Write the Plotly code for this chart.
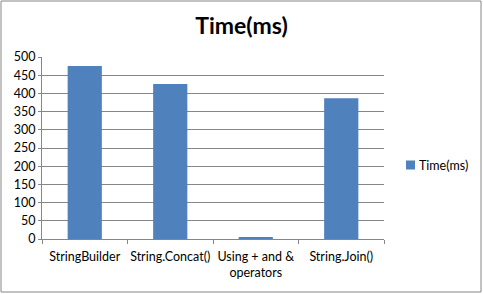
import plotly.graph_objects as go

categories = ["StringBuilder", "String.Concat()", "Using + and &<br>operators", "String.Join()"]
values = [475, 426, 3, 387]
series_name = "Time(ms)"
y_ticks = [0, 50, 100, 150, 200, 250, 300, 350, 400, 450, 500]

W, H = 483, 294
L, R, T, B = 42, 99, 57, 55
pw, ph = W - L - R, H - T - B
BAR_COLOR = "#4F81BD"
FONT = "Lato, Open Sans, sans-serif"

def px_x(x):
    return (x - L) / pw

def px_y(y):
    return (H - B - y) / ph

fig = go.Figure()
fig.add_trace(go.Bar(x=categories, y=values, name=series_name,
                     marker=dict(color=BAR_COLOR, line=dict(width=0)),
                     width=0.4, showlegend=False))

# legend drawn manually (square + text)
fig.add_shape(type="rect", xref="paper", yref="paper",
              x0=px_x(406), x1=px_x(415), y0=px_y(169.5), y1=px_y(160.5),
              fillcolor=BAR_COLOR, line=dict(width=0))
fig.add_annotation(text=series_name, xref="paper", yref="paper",
                   x=px_x(417), y=px_y(165), xanchor="left", yanchor="middle",
                   showarrow=False, font=dict(size=12.5, color="black", family=FONT))

fig.update_layout(
    width=W, height=H,
    margin=dict(l=L, r=R, t=T, b=B, pad=0, autoexpand=False),
    paper_bgcolor="white", plot_bgcolor="white",
    font=dict(family=FONT, size=12.5, color="black"),
    title=dict(text="<b>Time(ms)</b>", x=0.5, xanchor="center", xref="container",
               y=1 - 26 / H, yanchor="middle",
               font=dict(size=23, color="black", family=FONT)),
    showlegend=False,
    xaxis=dict(type="category", showgrid=False, showline=True, linecolor="#868686", linewidth=1,
               ticks="outside", ticklen=4, tickcolor="#868686", tickson="boundaries",
               tickangle=0, automargin=False, ticklabelstandoff=6,
               tickfont=dict(size=12.5, color="black")),
    yaxis=dict(range=[0, 500], tickvals=y_ticks, showgrid=True, gridcolor="#868686", gridwidth=1,
               showline=True, linecolor="#868686", linewidth=1,
               ticks="outside", ticklen=3, tickcolor="#868686", automargin=False,
               tickfont=dict(size=12.5, color="black"), zeroline=False),
)
fig.add_shape(type="rect", xref="paper", yref="paper",
              x0=px_x(1), x1=px_x(481), y0=px_y(292), y1=px_y(1),
              line=dict(color="#868686", width=1), fillcolor="rgba(0,0,0,0)", layer="below")

fig.write_html("out.html")
